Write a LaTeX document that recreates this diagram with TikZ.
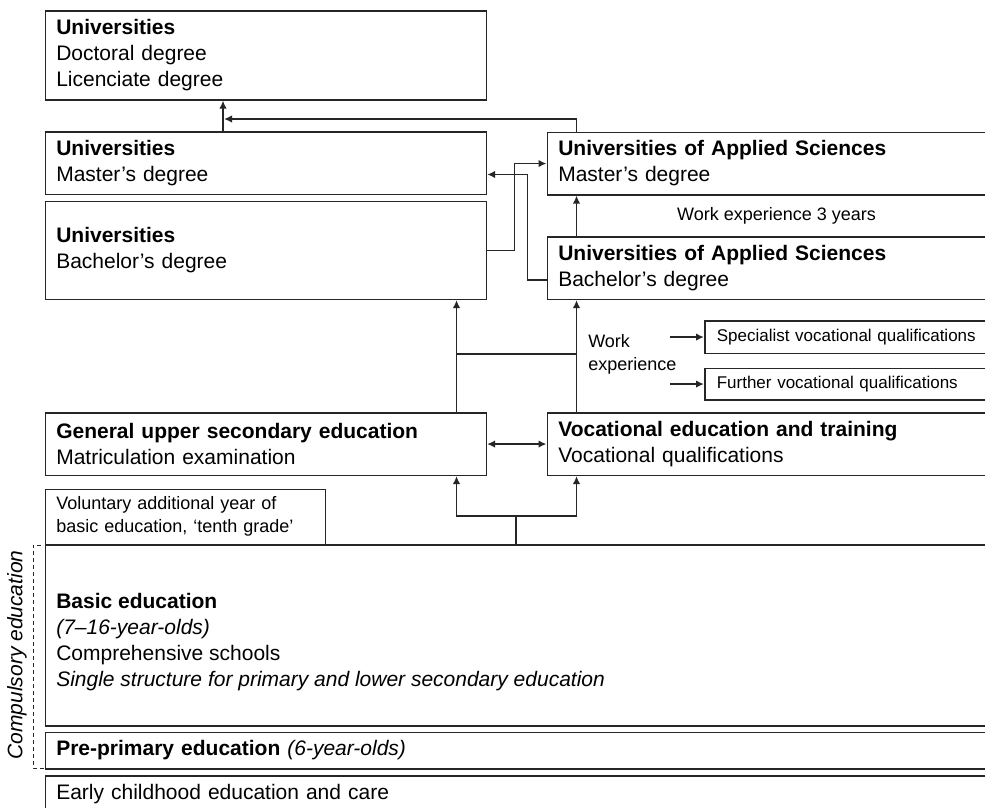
\documentclass[tikz,border=0pt]{standalone}
\usepackage{fontspec}
\setmainfont{Liberation Sans}
\usetikzlibrary{arrows.meta,calc}
\begin{document}
\begin{tikzpicture}[x=1pt,y=-1pt,
  line width=1.6pt,
  lc/.style={draw=black!85},
  box/.style={lc, rectangle, anchor=north west, inner xsep=11pt, inner ysep=0pt, align=left,
    font=\fontsize{21}{26}\selectfont},
  sbox/.style={box, font=\fontsize{18}{23}\selectfont},
  qbox/.style={box, font=\fontsize{17}{21}\selectfont, inner xsep=12pt},
  arr/.style={lc, -{Latex[length=8pt,width=7.5pt]}},
  arrtwo/.style={lc, {Latex[length=8pt,width=7.5pt]}-{Latex[length=8pt,width=7.5pt]}},
  plain/.style={lc},
  txt/.style={inner sep=0pt, align=left}
]
\useasboundingbox (0,0) rectangle (985,808);
\clip (0,0) rectangle (985,808);
\fill[white] (0,0) rectangle (985,808);

% boxes
\node[box, minimum width=441pt, minimum height=88.5pt, text width=419pt] (doc) at (44.5,10.5)
  {\textbf{Universities}\\Doctoral degree\\Licenciate degree};
\node[box, minimum width=441pt, minimum height=62.5pt, text width=419pt] (umas) at (44.5,131)
  {\textbf{Universities}\\Master’s degree};
\node[box, minimum width=441pt, minimum height=98pt, text width=419pt] (ubach) at (44.5,200.5)
  {\textbf{Universities}\\Bachelor’s degree};
\node[box, minimum width=460pt, minimum height=62.5pt, text width=438pt] (uasm) at (546.5,131.5)
  {\textbf{Universities of Applied Sciences}\\Master’s degree};
\node[box, minimum width=460pt, minimum height=62.5pt, text width=438pt] (uasb) at (546.5,236)
  {\textbf{Universities of Applied Sciences}\\Bachelor’s degree};
\node[qbox, minimum width=300pt, minimum height=32.5pt, text width=276pt] (spec) at (704,320)
  {Specialist vocational qualifications};
\node[qbox, minimum width=300pt, minimum height=31.5pt, text width=276pt] (furth) at (704,367.5)
  {Further vocational qualifications};
\node[box, minimum width=441pt, minimum height=62.5pt, text width=419pt] (gus) at (44.5,412)
  {\textbf{General upper secondary education}\\Matriculation examination};
\node[box, minimum width=460pt, minimum height=62.5pt, text width=438pt] (voc) at (546.5,412)
  {\textbf{Vocational education and training}\\Vocational qualifications};
\node[sbox, minimum width=280pt, minimum height=55pt, text width=258pt] (vol) at (44.5,488.5)
  {Voluntary additional year of\\basic education, ‘tenth grade’};
\node[box, minimum width=960pt, minimum height=181pt] (basic) at (44.5,544) {};
\node[txt, anchor=west, font=\fontsize{21}{26}\selectfont] (basictxt) at (55.5,642)
  {\textbf{Basic education}\\\textit{(7–16-year-olds)}\\Comprehensive schools\\\textit{Single structure for primary and lower secondary education}};
\node[box, minimum width=960pt, minimum height=36.5pt, text width=938pt] (pre) at (44.5,731.5)
  {\textbf{Pre-primary education} \textit{(6-year-olds)}};
\node[box, minimum width=960pt, minimum height=37pt, text width=938pt] (early) at (44.5,775)
  {Early childhood education and care};

% free texts
\node[txt, font=\fontsize{18}{23}\selectfont] (we3) at (776.5,215.5) {Work experience 3 years};
\node[txt, anchor=west, font=\fontsize{18}{23}\selectfont] (we) at (587.5,354.5) {Work\\experience};
\node[txt, rotate=90, font=\fontsize{21}{26}\selectfont\itshape] (comp) at (17,655) {Compulsory education};

% junction coordinates
\coordinate (xa) at (223,0);
\coordinate (xb) at (576.5,0);
\coordinate (xc) at (456.5,0);
\coordinate (xd) at (514.5,0);
\coordinate (t1) at (576.5,119);
\coordinate (t2) at (224,119);
\coordinate (p4) at (527.5,280);
\coordinate (p5) at (527.5,174.5);
\coordinate (h1) at (456.5,354);
\coordinate (h2) at (576.5,354);
\coordinate (j) at (516,515.7);

% connectors
\draw[arr] (xa |- umas.north) -- (xa |- doc.south);
\draw[arr] (t1 |- uasm.north) -- (t1) -- (t2);
\draw[arr] (ubach.east) -- (xd |- ubach.east) |- (uasm.west);
\draw[arr] (uasb.west |- p4) -- (p4) -- (p5) -- (umas.east |- p5);
\draw[arr] (xb |- uasb.north) -- (xb |- uasm.south);
\draw[arr] (xb |- voc.north) -- (xb |- uasb.south);
\draw[arr] (xc |- gus.north) -- (xc |- ubach.south);
\draw[plain] (h1) -- (h2);
\draw[arrtwo] (gus.east) -- (voc.west);
\draw[plain] (j |- basic.north) -- (j);
\draw[arr] (j) -| (xc |- gus.south);
\draw[arr] (j) -| (xb |- gus.south);
\draw[arr] ([xshift=-34pt]spec.west) -- (spec.west);
\draw[arr] ([xshift=-34pt]furth.west) -- (furth.west);

% compulsory bracket
\draw[lc, line width=1pt, dash pattern=on 4pt off 3pt] (41,545) -- (33,545) -- (33,768) -- (44,768);
\end{tikzpicture}
\end{document}
